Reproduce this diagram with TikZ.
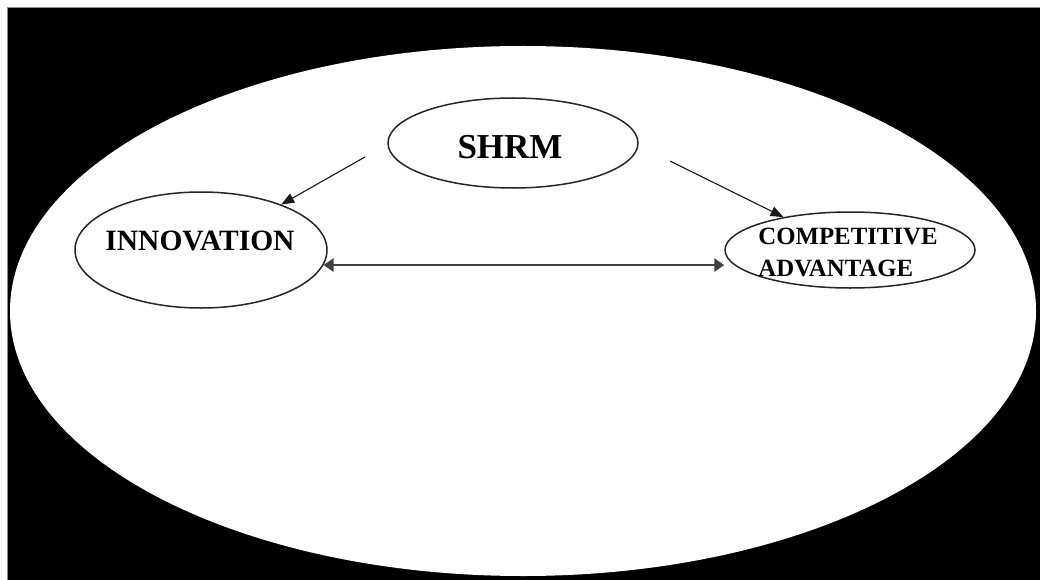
\documentclass[tikz,border=0pt]{standalone}
\usepackage{fontspec}
\setmainfont{Liberation Serif}
\usetikzlibrary{shapes.geometric,arrows.meta}
\tikzset{
  ell/.style={ellipse, draw=black!85, line width=1.5pt, fill=white, inner sep=0pt},
  lbl/.style={inner sep=0pt, font=\bfseries},
  arr/.style={draw=black!90, line width=1.1pt, -{Triangle[length=13pt,width=10pt]}},
  darr/.style={draw=black!75, line width=2.6pt, {Triangle[length=10pt,width=13pt]}-{Triangle[length=10pt,width=13pt]}}
}
\begin{document}
\begin{tikzpicture}[x=1pt,y=-1pt]
\useasboundingbox (0,0) rectangle (1040,580);
\fill[white] (0,0) rectangle (1040,580);
\fill[black] (7,7) rectangle (1040,580);
\draw[black!45, line width=1pt] (7,7.5) -- (1040,7.5);
\draw[black!45, line width=1pt] (7.5,7) -- (7.5,580);
% big white ellipse
\node[ellipse, fill=white, minimum width=1026pt, minimum height=530pt, inner sep=0pt] (outer) at (523,311) {};
% nodes
\node[ell, minimum width=250pt, minimum height=90pt] (shrm) at (513,143) {};
\node[lbl, font=\bfseries\fontsize{35}{40}\selectfont] (shrmt) at (510,147) {SHRM};
\node[ell, minimum width=252pt, minimum height=116pt] (inn) at (201,250) {};
\node[lbl, font=\bfseries\fontsize{29.5}{34}\selectfont] (innt) at (200,241) {INNOVATION};
\node[ell, minimum width=250pt, minimum height=76pt] (comp) at (850,250) {};
\node[lbl, align=left, font=\bfseries\fontsize{24.8}{32}\selectfont] (compt) at (848,252) {COMPETITIVE\\ADVANTAGE};
% connectors
\draw[arr] ([shift={(-148,14)}]shrm.center) -- (inn);
\draw[arr] ([shift={(157,18)}]shrm.center) -- (comp);
\draw[darr] (inn.-7) -- (inn.-7 -| comp.west);
\end{tikzpicture}
\end{document}
